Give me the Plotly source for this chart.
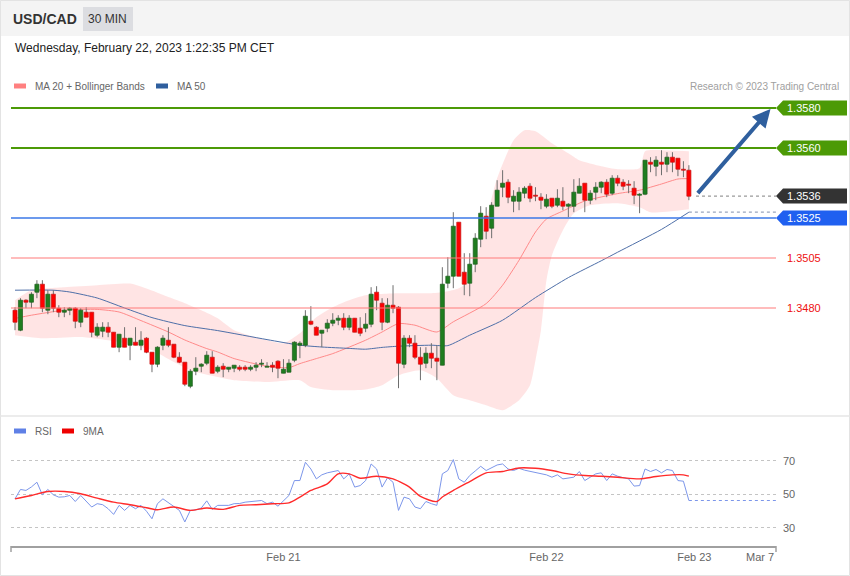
import plotly.graph_objects as go

# ---------------- data ----------------
symbol = "USD/CAD"
timeframe = "30 MIN"
timestamp = "Wednesday, February 22, 2023 1:22:35 PM CET"
credit = "Research © 2023 Trading Central"

opens = [1.34789, 1.34689, 1.34839, 1.34829, 1.34879, 1.34919, 1.34789, 1.34869, 1.34799, 1.34779,
         1.34789, 1.34799, 1.34729, 1.34779, 1.34779, 1.34664, 1.34684, 1.34704, 1.34679, 1.34604,
         1.34649, 1.34614, 1.34629, 1.34614, 1.34649, 1.34579, 1.34519, 1.34614, 1.34639, 1.34619,
         1.34554, 1.34529, 1.34409, 1.34484, 1.34509, 1.34524, 1.34554, 1.34484, 1.34509, 1.34494,
         1.34499, 1.34504, 1.34504, 1.34494, 1.34504, 1.34519, 1.34504, 1.34514, 1.34534, 1.34474,
         1.34479, 1.34539, 1.34614, 1.34614, 1.34734, 1.34704, 1.34674, 1.34699, 1.34724, 1.34739,
         1.34749, 1.34704, 1.34749, 1.34699, 1.34699, 1.34719, 1.34879, 1.34824, 1.34729, 1.34814,
         1.34804, 1.34519, 1.34649, 1.34624, 1.34554, 1.34524, 1.34574, 1.34549, 1.34514, 1.34924,
         1.34959, 1.35229, 1.34979, 1.34924, 1.35019, 1.35144, 1.35259, 1.35199, 1.35309, 1.35404,
         1.35429, 1.35334, 1.35334, 1.35374, 1.35409, 1.35364, 1.35354, 1.35309, 1.35349, 1.35314,
         1.35334, 1.35309, 1.35309, 1.35374, 1.35424, 1.35339, 1.35379, 1.35404, 1.35429, 1.35374,
         1.35449, 1.35429, 1.35419, 1.35399, 1.35364, 1.35369, 1.35529, 1.35509, 1.35529, 1.35519,
         1.35554, 1.35549, 1.35494, 1.35489]
highs = [1.34804, 1.34849, 1.34844, 1.34879, 1.34939, 1.34939, 1.34889, 1.34889, 1.34814, 1.34804,
         1.34804, 1.34804, 1.34799, 1.34804, 1.34779, 1.34724, 1.34729, 1.34729, 1.34679, 1.34669,
         1.34704, 1.34649, 1.34704, 1.34684, 1.34654, 1.34579, 1.34609, 1.34664, 1.34704, 1.34619,
         1.34579, 1.34529, 1.34494, 1.34554, 1.34524, 1.34584, 1.34584, 1.34514, 1.34524, 1.34504,
         1.34514, 1.34514, 1.34514, 1.34514, 1.34529, 1.34544, 1.34529, 1.34529, 1.34539, 1.34544,
         1.34544, 1.34634, 1.34634, 1.34789, 1.34809, 1.34709, 1.34689, 1.34744, 1.34774, 1.34764,
         1.34774, 1.34764, 1.34749, 1.34754, 1.34774, 1.34904, 1.34909, 1.34849, 1.34849, 1.34914,
         1.34809, 1.34664, 1.34664, 1.34664, 1.34604, 1.34604, 1.34624, 1.34614, 1.35004, 1.35054,
         1.35279, 1.35229, 1.35074, 1.35074, 1.35174, 1.35309, 1.35304, 1.35329, 1.35439, 1.35489,
         1.35444, 1.35389, 1.35404, 1.35409, 1.35424, 1.35404, 1.35374, 1.35369, 1.35349, 1.35394,
         1.35404, 1.35324, 1.35444, 1.35449, 1.35424, 1.35389, 1.35429, 1.35434, 1.35444, 1.35464,
         1.35464, 1.35444, 1.35439, 1.35434, 1.35374, 1.35539, 1.35554, 1.35559, 1.35589, 1.35579,
         1.35579, 1.35549, 1.35534, 1.35514]
lows = [1.34689, 1.34684, 1.34799, 1.34799, 1.34849, 1.34779, 1.34769, 1.34779, 1.34754, 1.34754,
        1.34764, 1.34699, 1.34704, 1.34754, 1.34654, 1.34654, 1.34654, 1.34654, 1.34604, 1.34579,
        1.34604, 1.34539, 1.34614, 1.34589, 1.34574, 1.34479, 1.34504, 1.34589, 1.34604, 1.34549,
        1.34524, 1.34409, 1.34399, 1.34464, 1.34479, 1.34514, 1.34474, 1.34474, 1.34454, 1.34479,
        1.34479, 1.34484, 1.34484, 1.34484, 1.34484, 1.34504, 1.34504, 1.34479, 1.34449, 1.34474,
        1.34479, 1.34529, 1.34549, 1.34604, 1.34714, 1.34664, 1.34604, 1.34679, 1.34709, 1.34714,
        1.34689, 1.34689, 1.34679, 1.34659, 1.34679, 1.34704, 1.34789, 1.34689, 1.34724, 1.34774,
        1.34399, 1.34499, 1.34604, 1.34544, 1.34439, 1.34499, 1.34499, 1.34439, 1.34514, 1.34899,
        1.34899, 1.34959, 1.34864, 1.34859, 1.34979, 1.35104, 1.35144, 1.35149, 1.35309, 1.35354,
        1.35324, 1.35279, 1.35289, 1.35349, 1.35329, 1.35334, 1.35294, 1.35299, 1.35299, 1.35304,
        1.35289, 1.35254, 1.35279, 1.35374, 1.35279, 1.35319, 1.35339, 1.35374, 1.35354, 1.35364,
        1.35409, 1.35389, 1.35374, 1.35319, 1.35274, 1.35364, 1.35479, 1.35459, 1.35464, 1.35479,
        1.35479, 1.35459, 1.35454, 1.35339]
closes = [1.34729, 1.34839, 1.34829, 1.34869, 1.34919, 1.34799, 1.34869, 1.34799, 1.34779, 1.34789,
          1.34799, 1.34734, 1.34789, 1.34754, 1.34679, 1.34704, 1.34704, 1.34679, 1.34604, 1.34669,
          1.34604, 1.34649, 1.34614, 1.34639, 1.34579, 1.34519, 1.34604, 1.34649, 1.34614, 1.34554,
          1.34529, 1.34419, 1.34484, 1.34499, 1.34519, 1.34564, 1.34474, 1.34504, 1.34494, 1.34504,
          1.34514, 1.34494, 1.34494, 1.34504, 1.34514, 1.34524, 1.34509, 1.34504, 1.34499, 1.34494,
          1.34524, 1.34629, 1.34624, 1.34759, 1.34719, 1.34664, 1.34689, 1.34724, 1.34739, 1.34749,
          1.34704, 1.34749, 1.34679, 1.34674, 1.34719, 1.34869, 1.34839, 1.34729, 1.34814, 1.34799,
          1.34524, 1.34649, 1.34624, 1.34554, 1.34519, 1.34574, 1.34549, 1.34534, 1.34919, 1.34959,
          1.35209, 1.34959, 1.34919, 1.35019, 1.35149, 1.35274, 1.35184, 1.35314, 1.35389, 1.35424,
          1.35354, 1.35359, 1.35379, 1.35399, 1.35349, 1.35359, 1.35339, 1.35344, 1.35309, 1.35349,
          1.35309, 1.35319, 1.35379, 1.35409, 1.35339, 1.35374, 1.35404, 1.35429, 1.35369, 1.35449,
          1.35424, 1.35409, 1.35414, 1.35364, 1.35369, 1.35539, 1.35519, 1.35539, 1.35519, 1.35554,
          1.35529, 1.35494, 1.35489, 1.35359]
bars = list(range(len(closes)))

ma20_idx = [0, 3, 9, 15, 19, 23, 28, 31, 35, 37, 40, 46, 50, 52, 55, 58, 64, 67, 70, 73, 77, 80,
            86, 89, 92, 95, 97, 100, 104, 110, 114, 118, 121, 123]
ma20 = [1.34748, 1.34764, 1.34789, 1.34793, 1.34780, 1.34737, 1.34680, 1.34640, 1.34597, 1.34580,
        1.34547, 1.34509, 1.34502, 1.34522, 1.34547, 1.34572, 1.34639, 1.34680, 1.34722, 1.34714,
        1.34680, 1.34731, 1.34822, 1.34914, 1.35039, 1.35180, 1.35245, 1.35285, 1.35335, 1.35372,
        1.35389, 1.35420, 1.35445, 1.35447]

bb_up_idx = [0, 3, 9, 15, 21, 24, 28, 31, 34, 37, 40, 46, 49, 52, 55, 58, 61, 64, 70, 76, 79, 81,
             83, 86, 88, 91, 93, 95, 98, 101, 103, 107, 110, 114, 115, 118, 123]
bb_up = [1.34839, 1.34889, 1.34904, 1.34914, 1.34922, 1.34897, 1.34855, 1.34824, 1.34789, 1.34749,
         1.34689, 1.34639, 1.34624, 1.34674, 1.34754, 1.34804, 1.34839, 1.34864, 1.34874, 1.34874,
         1.34884, 1.34899, 1.34939, 1.35239, 1.35449, 1.35639, 1.35689, 1.35684, 1.35624, 1.35574,
         1.35539, 1.35509, 1.35494, 1.35499, 1.35584, 1.35589, 1.35584]
bb_lo_idx = [0, 5, 12, 19, 25, 29, 32, 37, 40, 46, 52, 54, 58, 64, 67, 70, 74, 77, 80, 83, 86, 89,
             92, 94, 95, 96, 97, 98, 100, 102, 105, 110, 114, 116, 123]
bb_lo = [1.34664, 1.34649, 1.34655, 1.34630, 1.34589, 1.34530, 1.34489, 1.34455, 1.34439, 1.34430,
         1.34439, 1.34405, 1.34389, 1.34393, 1.34414, 1.34464, 1.34489, 1.34449, 1.34364, 1.34339,
         1.34314, 1.34289, 1.34339, 1.34414, 1.34539, 1.34689, 1.34939, 1.35064, 1.35189, 1.35274,
         1.35314, 1.35324, 1.35304, 1.35279, 1.35294]

ma50_idx = [0, 7, 10, 15, 20, 25, 31, 37, 46, 52, 56, 61, 64, 67, 70, 76, 79, 83, 89, 95, 101, 107,
            110, 118, 123]
ma50 = [1.34889, 1.34889, 1.34880, 1.34850, 1.34800, 1.34752, 1.34712, 1.34687, 1.34642, 1.34614,
        1.34605, 1.34598, 1.34594, 1.34603, 1.34609, 1.34614, 1.34612, 1.34664, 1.34739, 1.34852,
        1.34952, 1.35036, 1.35079, 1.35193, 1.35279]

rsi = [47.4, 53.0, 52.4, 54.5, 57.3, 49.8, 53.0, 49.8, 48.4, 48.6,
       49.4, 45.8, 49.4, 46.0, 42.5, 44.5, 43.9, 41.5, 38.1, 43.5,
       40.5, 43.5, 41.5, 43.5, 40.0, 35.5, 44.5, 47.4, 45.0, 42.5,
       40.5, 33.6, 40.5, 40.8, 41.9, 46.2, 41.1, 43.5, 43.5, 43.5,
       44.5, 44.6, 45.4, 45.8, 46.4, 46.4, 44.5, 45.4, 43.0, 46.0,
       49.4, 58.3, 58.3, 69.2, 65.2, 59.3, 61.7, 62.9, 63.8, 64.3,
       59.3, 62.3, 54.4, 55.3, 58.3, 68.2, 65.2, 54.4, 60.0, 57.3,
       40.5, 48.4, 47.4, 42.5, 41.5, 45.8, 44.5, 43.5, 62.3, 64.3,
       70.8, 59.3, 57.3, 61.3, 64.0, 66.8, 64.3, 66.2, 67.6, 68.2,
       65.2, 64.3, 65.6, 64.5, 63.7, 63.3, 62.5, 61.7, 60.3, 61.7,
       59.3, 60.0, 60.3, 63.7, 58.3, 60.3, 62.3, 62.9, 58.3, 62.3,
       60.9, 60.0, 59.3, 55.0, 55.3, 65.2, 63.7, 64.9, 62.9, 64.9,
       64.3, 58.3, 57.9, 46.4]
rsi_ma_idx = [0, 3, 6, 9, 12, 15, 18, 21, 24, 26, 29, 32, 35, 38, 41, 44, 47, 50, 52, 54, 57, 59,
              61, 63, 66, 69, 71, 72, 74, 77, 78, 80, 83, 86, 89, 92, 95, 98, 101, 104, 107, 110,
              114, 117, 120, 122, 123]
rsi_ma = [47.4, 49.4, 51.8, 51.8, 50.4, 47.8, 45.4, 43.9, 42.1, 40.9, 42.5, 40.5, 41.9, 41.1, 43.5,
          43.9, 44.5, 45.0, 48.4, 52.4, 56.3, 62.3, 62.3, 59.7, 60.9, 59.3, 56.3, 54.4, 48.8, 45.8,
          48.5, 52.4, 57.7, 62.9, 63.7, 65.8, 65.6, 64.3, 62.3, 61.3, 60.9, 60.3, 59.3, 60.7, 61.7,
          61.7, 60.9]
rsi_levels = [30, 50, 70]

levels = [1.3580, 1.3560, 1.3536, 1.3525, 1.3505, 1.3480]
level_text = ["1.3580", "1.3560", "1.3536", "1.3525", "1.3505", "1.3480"]
level_kind = ["target", "target", "last", "pivot", "support", "support"]

tick_idx = [49, 97, 124, 136]
tick_text = ["Feb 21", "Feb 22", "Feb 23", "Mar 7"]

# ---------------- layout helpers ----------------
W, H = 850, 576
FONT = "Liberation Sans, Arial, sans-serif"
X_LEFT, X_RIGHT = 11, 776
x_range = [-0.73, 138.9]


def px(x):
    return x / W


def py(y):
    return 1 - y / H


fig = go.Figure()

# Bollinger band fill
fig.add_trace(go.Scatter(x=bb_up_idx, y=bb_up, mode="lines",
                         line=dict(width=0, shape="spline", smoothing=0.6),
                         hoverinfo="skip", showlegend=False, xaxis="x", yaxis="y"))
fig.add_trace(go.Scatter(x=bb_lo_idx, y=bb_lo, mode="lines", fill="tonexty",
                         fillcolor="rgba(255,205,205,0.55)",
                         line=dict(width=0, shape="spline", smoothing=0.6),
                         hoverinfo="skip", showlegend=False, xaxis="x", yaxis="y"))
# MA lines
fig.add_trace(go.Scatter(x=ma20_idx, y=ma20, mode="lines",
                         line=dict(color="#ff8a8a", width=1, shape="spline", smoothing=0.6),
                         showlegend=False, xaxis="x", yaxis="y"))
fig.add_trace(go.Scatter(x=ma50_idx, y=ma50, mode="lines",
                         line=dict(color="#4e6fa8", width=1, shape="spline", smoothing=0.6),
                         showlegend=False, xaxis="x", yaxis="y"))
# dotted extension of MA50 and last price
fig.add_trace(go.Scatter(x=[ma50_idx[-1], x_range[1]], y=[ma50[-1], ma50[-1]], mode="lines",
                         line=dict(color="#9aa6bd", width=1.2, dash="dot"),
                         showlegend=False, xaxis="x", yaxis="y"))
fig.add_trace(go.Scatter(x=[bars[-1] + 1.3, x_range[1]], y=[closes[-1], closes[-1]], mode="lines",
                         line=dict(color="#9a9a9a", width=1.2, dash="dot"),
                         showlegend=False, xaxis="x", yaxis="y"))

# candles: wicks
wick_x, wick_y = [], []
for i, h, l in zip(bars, highs, lows):
    wick_x += [i, i, None]
    wick_y += [l, h, None]
fig.add_trace(go.Scatter(x=wick_x, y=wick_y, mode="lines",
                         line=dict(color="#6e6e6e", width=1),
                         showlegend=False, hoverinfo="skip", xaxis="x", yaxis="y"))

# candles: bodies as filled polygons (kept above the band fill)
MIN_BODY = 0.00004
HW = 0.37
up_px, up_py, dn_px, dn_py = [], [], [], []
for i, o, c in zip(bars, opens, closes):
    lo_b, hi_b = min(o, c), max(o, c)
    if hi_b - lo_b < MIN_BODY:
        mid = (hi_b + lo_b) / 2
        lo_b, hi_b = mid - MIN_BODY / 2, mid + MIN_BODY / 2
    xs = [i - HW, i + HW, i + HW, i - HW, i - HW, None]
    ys = [lo_b, lo_b, hi_b, hi_b, lo_b, None]
    if c >= o:
        up_px += xs; up_py += ys
    else:
        dn_px += xs; dn_py += ys
fig.add_trace(go.Scatter(x=up_px, y=up_py, mode="lines", fill="toself", fillcolor="#1f7d1f",
                         line=dict(color="#1c5c1c", width=0.7),
                         showlegend=False, hoverinfo="skip", xaxis="x", yaxis="y"))
fig.add_trace(go.Scatter(x=dn_px, y=dn_py, mode="lines", fill="toself", fillcolor="#ff0000",
                         line=dict(color="#c41414", width=0.7),
                         showlegend=False, hoverinfo="skip", xaxis="x", yaxis="y"))

# RSI panel
fig.add_trace(go.Scatter(x=bars, y=rsi, mode="lines",
                         line=dict(color="#7c96ea", width=1),
                         showlegend=False, xaxis="x2", yaxis="y2"))
fig.add_trace(go.Scatter(x=[bars[-1], x_range[1]], y=[rsi[-1], rsi[-1]], mode="lines",
                         line=dict(color="#7c96ea", width=1, dash="dot"),
                         showlegend=False, xaxis="x2", yaxis="y2"))
fig.add_trace(go.Scatter(x=rsi_ma_idx, y=rsi_ma, mode="lines",
                         line=dict(color="#ff2b2b", width=1.4, shape="spline", smoothing=0.8),
                         showlegend=False, xaxis="x2", yaxis="y2"))

shapes = []
annotations = []

# card, header, separator
shapes.append(dict(type="rect", xref="paper", yref="paper", x0=px(0), x1=px(850), y0=py(36), y1=py(0),
                   fillcolor="#f4f4f4", line=dict(width=0), layer="below"))
shapes.append(dict(type="rect", xref="paper", yref="paper", x0=px(83), x1=px(133), y0=py(31), y1=py(7),
                   fillcolor="#dcdde1", line=dict(width=0), layer="below"))
shapes.append(dict(type="rect", xref="paper", yref="paper", x0=px(0.5), x1=px(849.5), y0=py(575.5), y1=py(0.5),
                   fillcolor="rgba(0,0,0,0)", line=dict(color="#e3e3e3", width=1), layer="below"))
shapes.append(dict(type="line", xref="paper", yref="paper", x0=0, x1=1, y0=py(416), y1=py(416),
                   line=dict(color="#e6e6e6", width=1.5), layer="below"))

annotations.append(dict(text="<b>" + symbol + "</b>", x=px(11), y=py(19), xref="paper", yref="paper",
                        xanchor="left", yanchor="middle", showarrow=False,
                        font=dict(family=FONT, size=14, color="#333333")))
annotations.append(dict(text=timeframe, x=px(108), y=py(19), xref="paper", yref="paper",
                        xanchor="center", yanchor="middle", showarrow=False,
                        font=dict(family=FONT, size=12, color="#333333")))
annotations.append(dict(text=timestamp, x=px(13), y=py(48), xref="paper", yref="paper",
                        xanchor="left", yanchor="middle", showarrow=False,
                        font=dict(family=FONT, size=12, color="#222222")))
annotations.append(dict(text=credit, x=px(841), y=py(86), xref="paper", yref="paper",
                        xanchor="right", yanchor="middle", showarrow=False,
                        font=dict(family=FONT, size=10, color="#a0a0a0")))


# legends
def legend_item(x_sw, y, color, label):
    shapes.append(dict(type="rect", xref="paper", yref="paper", x0=px(x_sw), x1=px(x_sw + 12),
                       y0=py(y + 2.5), y1=py(y - 2.5), fillcolor=color, line=dict(width=0)))
    annotations.append(dict(text=label, x=px(x_sw + 19), y=py(y), xref="paper", yref="paper",
                            xanchor="left", yanchor="middle", showarrow=False,
                            font=dict(family=FONT, size=10, color="#666666")))


legend_item(14, 86, "#ff8080", "MA 20 + Bollinger Bands")
legend_item(156, 86, "#2f5f9e", "MA 50")
legend_item(14, 431, "#5f80e6", "RSI")
legend_item(62, 431, "#ee0000", "9MA")

# level lines and labels
kind_style = {
    "target": dict(line="#4c9a06", width=2, box="#4c9a06", text="#ffffff"),
    "last": dict(line=None, width=0, box="#333333", text="#ffffff"),
    "pivot": dict(line="#3b78e7", width=1.5, box="#2060f0", text="#ffffff"),
    "support": dict(line="#ff7a7a", width=1.2, box=None, text="#ee1111"),
}
half = 0.000375
for lv, txt, kind in zip(levels, level_text, level_kind):
    st = kind_style[kind]
    if st["line"]:
        shapes.append(dict(type="line", xref="paper", yref="y", x0=px(X_LEFT), x1=px(X_RIGHT),
                           y0=lv, y1=lv, line=dict(color=st["line"], width=st["width"])))
    if st["box"]:
        path = (f"M {px(776)},{lv} L {px(783)},{lv + half} L {px(847)},{lv + half} "
                f"L {px(847)},{lv - half} L {px(783)},{lv - half} Z")
        shapes.append(dict(type="path", xref="paper", yref="y", path=path,
                           fillcolor=st["box"], line=dict(width=0)))
    annotations.append(dict(text=txt, x=px(785), y=lv, xref="paper", yref="y",
                            xanchor="left", yanchor="middle", showarrow=False,
                            font=dict(family=FONT, size=11, color=st["text"])))

# projection arrow towards first target
annotations.append(dict(text="", x=137.9, y=levels[0] - 0.00005, xref="x", yref="y",
                        ax=bars[-1] + 1.4, ay=closes[-1] + 0.00008, axref="x", ayref="y",
                        showarrow=True, arrowhead=2, arrowsize=0.9, arrowwidth=4,
                        arrowcolor="#2f5f9e"))

# RSI axis end ticks
for xe in (X_LEFT, X_RIGHT):
    shapes.append(dict(type="line", xref="paper", yref="paper", x0=px(xe), x1=px(xe),
                       y0=py(546), y1=py(552), line=dict(color="#a0a0a0", width=1.5)))

fig.update_layout(
    width=W, height=H, margin=dict(l=0, r=0, t=0, b=0),
    paper_bgcolor="#ffffff", plot_bgcolor="rgba(0,0,0,0)",
    showlegend=False, shapes=shapes, annotations=annotations,
    font=dict(family=FONT),
    xaxis=dict(domain=[px(X_LEFT), px(X_RIGHT)], range=x_range, visible=False, anchor="y"),
    yaxis=dict(domain=[py(415), py(90)], range=[1.34265, 1.3589], visible=False, anchor="x"),
    xaxis2=dict(domain=[px(X_LEFT), px(X_RIGHT)], range=x_range, anchor="y2",
                showline=True, linecolor="#a0a0a0", linewidth=1.5, showgrid=False, zeroline=False,
                tickmode="array", tickvals=tick_idx, ticktext=tick_text, ticks="",
                tickfont=dict(family=FONT, size=11, color="#666666")),
    yaxis2=dict(domain=[py(546), py(441)], range=[19.25, 81.9], anchor="x2", side="right",
                tickmode="array", tickvals=rsi_levels, ticks="", showline=False, zeroline=False,
                showgrid=True, gridcolor="#c4c4c4", griddash="dot", gridwidth=1,
                ticklabelstandoff=6,
                tickfont=dict(family=FONT, size=11, color="#666666")),
)

fig.write_html("out.html", config={"displayModeBar": False},
               post_script="document.body.style.margin='0';document.body.style.padding='0';")
